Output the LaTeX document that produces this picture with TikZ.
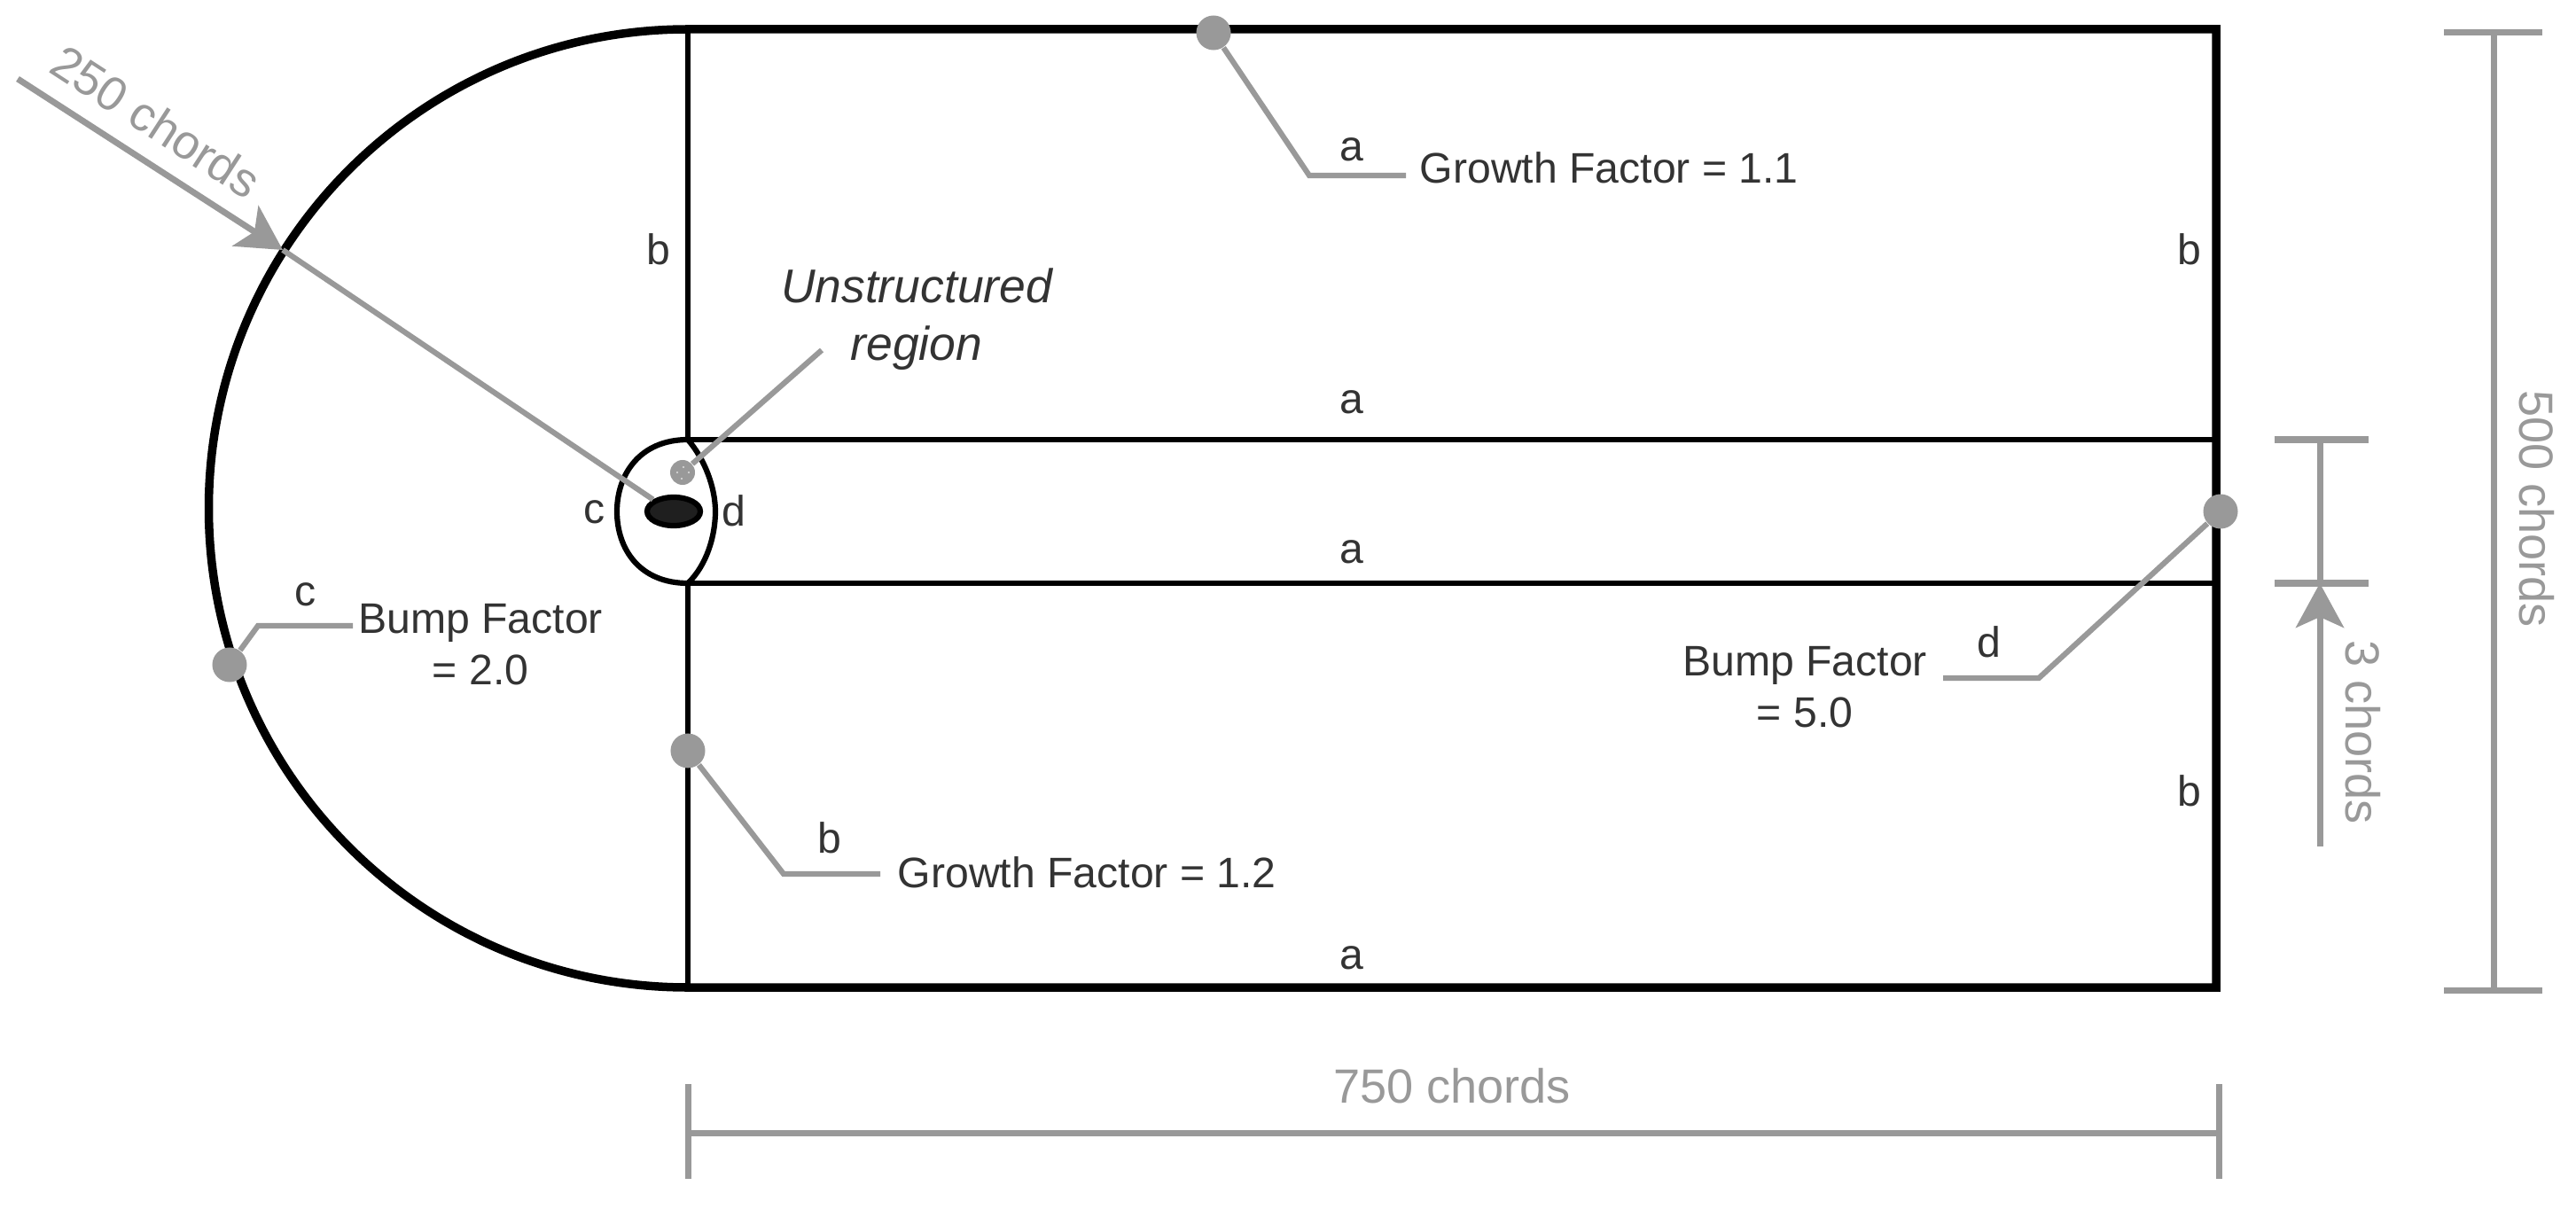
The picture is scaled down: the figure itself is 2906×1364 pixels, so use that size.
\documentclass[tikz,border=0pt]{standalone}
\usepackage{fontspec}
\setmainfont{Liberation Sans}
\usepackage{tikz}
\usetikzlibrary{arrows.meta,shapes.geometric}
\definecolor{dimgrey}{gray}{0.6}
\definecolor{txtgrey}{gray}{0.2}
\newcommand{\lblfont}{\fontsize{13.7}{16.4}\selectfont}
\newcommand{\dimfont}{\fontsize{15.4}{18.5}\selectfont}

\begin{document}
\begin{tikzpicture}[x=0.01cm,y=-0.01cm]
    \tikzstyle{every node}=[font=\lblfont,text=txtgrey,inner sep=0pt]
    \tikzstyle{thick wall}=[line width=0.095cm,black]
    \tikzstyle{thin wall}=[line width=0.062cm,black]
    \tikzstyle{leader}=[line width=0.062cm,dimgrey]
    \tikzstyle{dim}=[line width=0.07cm,dimgrey]
    \tikzstyle{dot}=[circle,fill=dimgrey,minimum size=0.39cm]
    \tikzstyle{dimtext}=[font=\dimfont,text=dimgrey]
    \tikzstyle{head}=[-{Stealth[length=0.5cm,width=0.54cm,inset=0.12cm]}]

    \useasboundingbox (0,0) rectangle (2906,1364);

    \coordinate (tl) at (776,33);
    \coordinate (tr) at (2500,33);
    \coordinate (bl) at (776,1114);
    \coordinate (br) at (2500,1114);
    \coordinate (il) at (776,496);
    \coordinate (ir) at (2500,496);
    \coordinate (jl) at (776,658);
    \coordinate (jr) at (2500,658);

    \draw[thick wall] (bl) arc (90:270:540.5) -- (tr) -- (br) -- cycle;
    \draw[thin wall] (tl) -- (il);
    \draw[thin wall] (jl) -- (bl);
    \draw[thin wall] (il) -- (ir);
    \draw[thin wall] (jl) -- (jr);
    \draw[thin wall] (il) .. controls (722,496) and (696,535) .. (696,577)
                          .. controls (696,620) and (722,658) .. (jl);
    \draw[thin wall] (il) .. controls (795,518) and (807,550) .. (807,577)
                          .. controls (807,605) and (797,638) .. (jl);

    \node[ellipse,draw=black,line width=0.062cm,fill=black!88,minimum width=0.6cm,minimum height=0.32cm] (foil) at (760,577) {};
    \node[dot,minimum size=0.28cm] (ureg) at (770,533) {};
    \foreach \dx/\dy in {-6/0,1/-6,7/0,-1/7}
        \fill[white!70!dimgrey] (770+\dx,533+\dy) circle (0.012cm);

    \node[dot] (dtop) at (1369,37) {};
    \node[dot] (dleft) at (776,847) {};
    \node[dot] (darc) at (259,750) {};
    \node[dot] (dright) at (2505,577) {};

    \node[anchor=west] (gf1) at (1601,189) {Growth Factor = 1.1};
    \node[anchor=west] (gf2) at (1012,984) {Growth Factor = 1.2};
    \node[align=center] (bf1) at (542,727) {Bump Factor\\= 2.0};
    \node[align=center] (bf2) at (2036,775) {Bump Factor\\= 5.0};
    \node[align=center,font=\fontsize{15.2}{18.5}\selectfont\itshape] (ureglbl) at (1034,360) {Unstructured\\region};

    \coordinate (k1) at (1477,198);
    \coordinate (k2) at (1586,198);
    \coordinate (k3) at (884,986);
    \coordinate (k4) at (993,986);
    \coordinate (k5) at (291,706);
    \coordinate (k6) at (398,706);
    \coordinate (k7) at (2300,765);
    \coordinate (k8) at (2192,765);
    \coordinate (k9) at (927,395);

    \draw[leader] (dtop) -- (k1) -- (k2);
    \draw[leader] (dleft) -- (k3) -- (k4);
    \draw[leader] (darc) -- (k5) -- (k6);
    \draw[leader] (dright) -- (k7) -- (k8);
    \draw[leader] (ureg) -- (k9);

    \node (a1) at (1525,169) {a};
    \node (a2) at (1525,454) {a};
    \node (a3) at (1525,623) {a};
    \node (a4) at (1525,1081) {a};
    \node (b1) at (743,281) {b};
    \node (b2) at (2470,281) {b};
    \node (b3) at (2470,892) {b};
    \node (b4) at (936,945) {b};
    \node (c1) at (671,578) {c};
    \node (c2) at (345,671) {c};
    \node (d1) at (828,576) {d};
    \node (d2) at (2244,724) {d};

    \coordinate (r0) at (20,89);
    \coordinate (r1) at (319,282);
    \draw[dim,head] (r0) -- (r1);
    \draw[leader] (r1) -- (foil.north west);
    \node[dimtext,rotate=-33] (rlbl) at (176,137) {250 chords};

    \coordinate (h0) at (776,1278);
    \coordinate (h1) at (2503,1278);
    \draw[dim] (776,1223) -- (776,1330);
    \draw[dim] (2503,1223) -- (2503,1330);
    \draw[dim] (h0) -- (h1);
    \node[dimtext] (hlbl) at (1638,1225) {750 chords};

    \coordinate (v0) at (2813,37);
    \coordinate (v1) at (2813,1117);
    \draw[dim] (2757,37) -- (2868,37);
    \draw[dim] (2757,1117) -- (2868,1117);
    \draw[dim] (v0) -- (v1);
    \node[dimtext,rotate=-90] (vlbl) at (2862,574) {500 chords};

    \coordinate (s0) at (2617,496);
    \coordinate (s1) at (2617,658);
    \coordinate (s2) at (2617,955);
    \draw[dim] (2566,496) -- (2672,496);
    \draw[dim] (2566,658) -- (2672,658);
    \draw[dim] (s0) -- (s1);
    \draw[dim,head] (s2) -- (s1);
    \node[dimtext,rotate=-90] (slbl) at (2666,826) {3 chords};
\end{tikzpicture}
\end{document}
